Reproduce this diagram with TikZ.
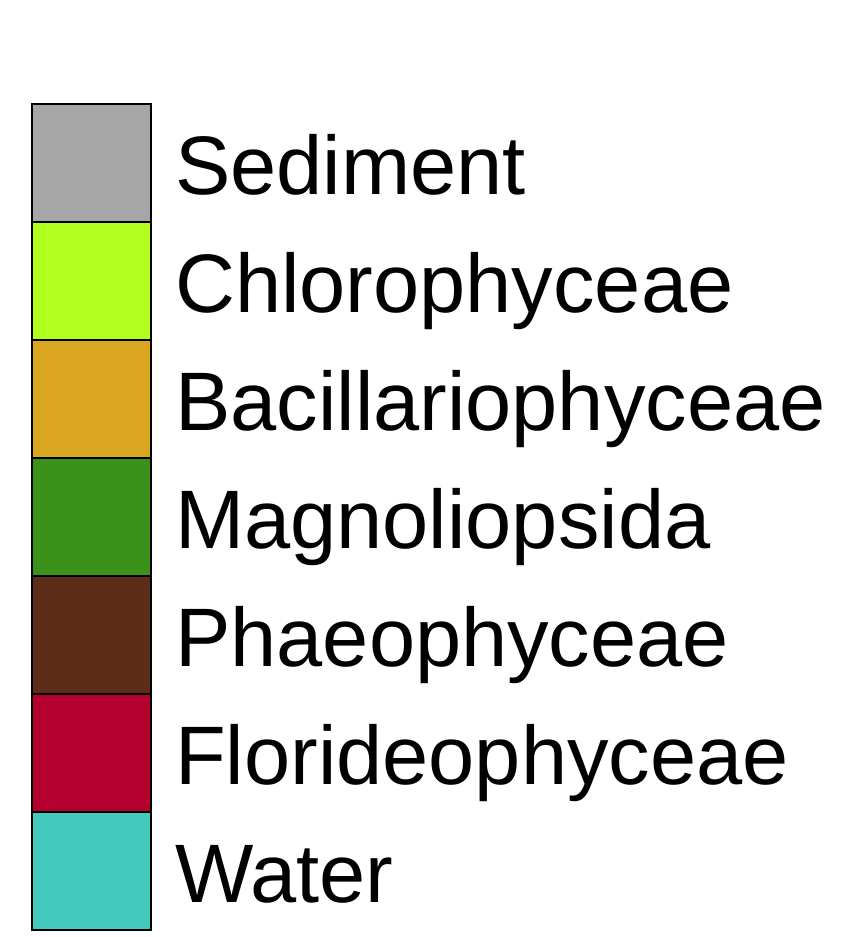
\documentclass[tikz,border=0pt]{standalone}
\usepackage{fontspec}
\setmainfont{Liberation Sans}
\definecolor{cSed}{HTML}{A6A6A6}
\definecolor{cChl}{HTML}{B0FF1E}
\definecolor{cBac}{HTML}{DAA521}
\definecolor{cMag}{HTML}{3A921B}
\definecolor{cPha}{HTML}{5E2D19}
\definecolor{cFlo}{HTML}{B5002E}
\definecolor{cWat}{HTML}{43CABC}
\begin{document}
\begin{tikzpicture}[x=1pt,y=-1pt,
  keybox/.style={draw=black,line width=1.6pt,minimum width=119pt,minimum height=118pt,inner sep=0pt,outer sep=0pt,anchor=north west},
  keylabel/.style={anchor=base west,inner sep=0pt,font=\fontsize{83}{83}\selectfont}]
\useasboundingbox[fill=white] (0,0) rectangle (851,937);
\foreach \c/\t [count=\i from 0] in {cSed/Sediment,cChl/Chlorophyceae,cBac/Bacillariophyceae,cMag/Magnoliopsida,cPha/Phaeophyceae,cFlo/Florideophyceae,cWat/Water}{
  \node[keybox,fill=\c] (box\i) at (32,{104+118*\i}) {};
  \node[keylabel] (lab\i) at (175,{194+118*\i}) {\t};
}
\end{tikzpicture}
\end{document}
